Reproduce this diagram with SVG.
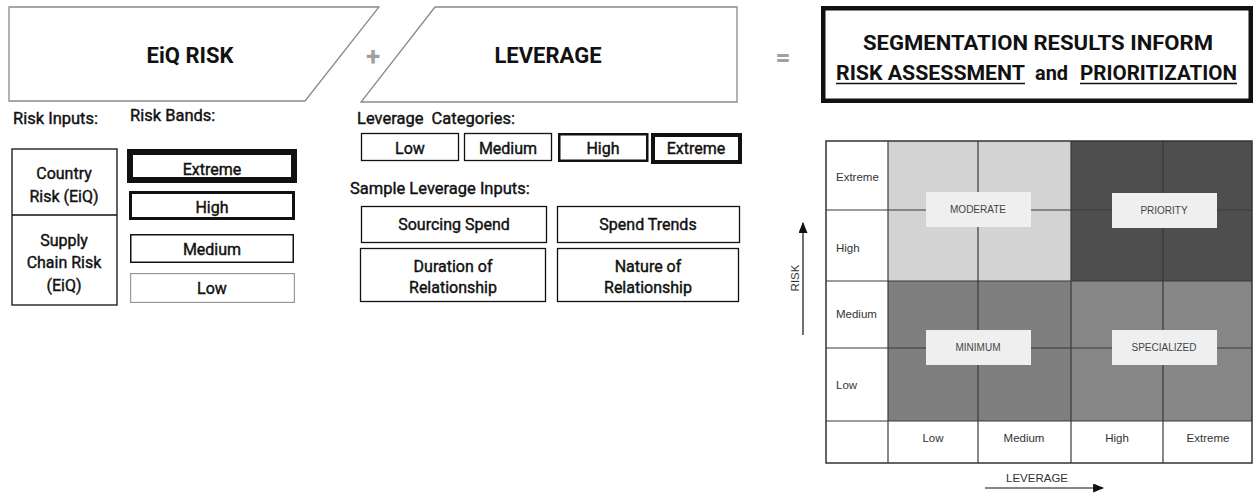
<svg xmlns="http://www.w3.org/2000/svg" width="1254" height="496" viewBox="0 0 1254 496">
<style>
text{font-family:Roboto,"Liberation Sans",sans-serif;fill:#111}
.hd{font-size:22px;font-weight:bold;text-anchor:middle}
.lb{font-size:16.5px;font-weight:400;stroke:#111;stroke-width:0.4}
.bx{font-size:16px;font-weight:400;text-anchor:middle;stroke:#111;stroke-width:0.4}
.op{font-size:26px;font-weight:bold;fill:#a0a0a0;text-anchor:middle}
.box{fill:#fff;stroke:#111;stroke-width:1.3}
.par{fill:#fff;stroke:#8a8a8a;stroke-width:1.3}
.gt{font-family:"Liberation Sans",Roboto,sans-serif;font-size:11.5px;fill:#333}
.gm{font-family:"Liberation Sans",Roboto,sans-serif;font-size:10px;fill:#444;text-anchor:middle}
.tag{fill:#efefef}
.gl{stroke:#3a3a3a;stroke-width:1.2}
.ax{stroke:#111;stroke-width:1.2;fill:none}
</style>
<defs>
<marker id="ah" viewBox="0 0 10 10" refX="9" refY="5" markerWidth="11" markerHeight="9" markerUnits="userSpaceOnUse" orient="auto" preserveAspectRatio="none">
<path d="M0,0 L10,5 L0,10 z" fill="#111"/>
</marker>
</defs>
<rect width="1254" height="496" fill="#fff"/>

<g id="eiq-risk-header">
<polygon class="par" points="9,7 379,7 305,101 9,101"/>
<text class="hd" x="190" y="63">EiQ RISK</text>
</g>
<g id="plus-op"><text class="op" x="373" y="65">+</text></g>
<g id="leverage-header">
<polygon class="par" points="435,7 737,7 737,102 361,102"/>
<text class="hd" x="548" y="63">LEVERAGE</text>
</g>
<g id="equals-op"><text class="op" x="783" y="66">=</text></g>
<g id="results-header">
<rect x="823.25" y="8.25" width="427.5" height="92.5" fill="#fff" stroke="#111" stroke-width="4.5"/>
<text x="1038" y="49.5" font-size="21" font-weight="bold" text-anchor="middle" textLength="350" lengthAdjust="spacingAndGlyphs">SEGMENTATION RESULTS INFORM</text>
<text x="836" y="79.5" font-size="21" font-weight="bold" textLength="189" lengthAdjust="spacingAndGlyphs">RISK ASSESSMENT</text>
<text x="1035" y="79.5" font-size="21" font-weight="bold" textLength="33" lengthAdjust="spacingAndGlyphs">and</text>
<text x="1080" y="79.5" font-size="21" font-weight="bold" textLength="157" lengthAdjust="spacingAndGlyphs">PRIORITIZATION</text>
<line x1="836" y1="83.5" x2="1025" y2="83.5" stroke="#111" stroke-width="1.5"/>
<line x1="1080" y1="83.5" x2="1237" y2="83.5" stroke="#111" stroke-width="1.5"/>
</g>

<g id="risk-inputs">
<text class="lb" x="13" y="124">Risk Inputs:</text>
<rect class="box" x="12" y="149" width="105" height="156"/>
<line x1="12" y1="215" x2="117" y2="215" stroke="#111" stroke-width="1.3"/>
<text class="bx" x="64" y="179">Country</text>
<text class="bx" x="64" y="202">Risk (EiQ)</text>
<text class="bx" x="64" y="246">Supply</text>
<text class="bx" x="64" y="268">Chain Risk</text>
<text class="bx" x="64" y="291">(EiQ)</text>
</g>

<g id="risk-bands">
<text class="lb" x="130" y="121">Risk Bands:</text>
<rect x="130" y="152" width="164" height="28" fill="#fff" stroke="#111" stroke-width="6"/>
<text class="bx" x="212" y="175">Extreme</text>
<rect x="130.5" y="192.5" width="163" height="26" fill="#fff" stroke="#111" stroke-width="3"/>
<text class="bx" x="212" y="213">High</text>
<rect x="130.75" y="234.75" width="162.5" height="27.5" fill="#fff" stroke="#111" stroke-width="1.5"/>
<text class="bx" x="212" y="255">Medium</text>
<rect x="130.6" y="273.6" width="163.8" height="28.8" fill="#fff" stroke="#999" stroke-width="1.2"/>
<text class="bx" x="212" y="294">Low</text>
</g>

<g id="leverage-categories">
<text class="lb" x="357" y="124" xml:space="preserve">Leverage  Categories:</text>
<rect class="box" x="361.5" y="133.5" width="97" height="27"/>
<text class="bx" x="410" y="154">Low</text>
<rect class="box" x="464.5" y="133.5" width="87" height="27"/>
<text class="bx" x="508" y="154">Medium</text>
<rect x="559.25" y="134.25" width="88" height="26.5" fill="#fff" stroke="#111" stroke-width="2.5"/>
<text class="bx" x="603" y="154">High</text>
<rect x="653" y="135" width="87" height="27" fill="#fff" stroke="#111" stroke-width="4"/>
<text class="bx" x="696" y="154">Extreme</text>
</g>

<g id="leverage-inputs">
<text class="lb" x="350" y="194">Sample Leverage Inputs:</text>
<rect class="box" x="361.5" y="206.5" width="185" height="36"/>
<text class="bx" x="454" y="230">Sourcing Spend</text>
<rect class="box" x="557.5" y="206.5" width="182" height="36"/>
<text class="bx" x="648" y="230">Spend Trends</text>
<rect class="box" x="360.5" y="248.5" width="185" height="53"/>
<text class="bx" x="453" y="272">Duration of</text>
<text class="bx" x="453" y="293">Relationship</text>
<rect class="box" x="557.5" y="248.5" width="181" height="53"/>
<text class="bx" x="648" y="272">Nature of</text>
<text class="bx" x="648" y="293">Relationship</text>
</g>

<g id="segmentation-grid">
<rect x="826" y="141" width="426" height="322" fill="#fff"/>
<rect x="888" y="141" width="183" height="140" fill="#d3d3d3"/>
<rect x="1071" y="141" width="181" height="140" fill="#4e4e4e"/>
<rect x="888" y="281" width="183" height="140" fill="#7f7f7f"/>
<rect x="1071" y="281" width="181" height="140" fill="#878787"/>
<g class="gl">
<line x1="888" y1="141" x2="888" y2="463"/>
<line x1="978" y1="141" x2="978" y2="463"/>
<line x1="1071" y1="141" x2="1071" y2="463"/>
<line x1="1163" y1="141" x2="1163" y2="463"/>
<line x1="826" y1="210" x2="1252" y2="210"/>
<line x1="826" y1="281" x2="1252" y2="281"/>
<line x1="826" y1="348" x2="1252" y2="348"/>
<line x1="826" y1="421" x2="1252" y2="421"/>
</g>
<rect x="826" y="141" width="426" height="322" fill="none" stroke="#333" stroke-width="1.5"/>
<text class="gt" x="836" y="181">Extreme</text>
<text class="gt" x="836" y="252">High</text>
<text class="gt" x="836" y="318">Medium</text>
<text class="gt" x="836" y="389">Low</text>
<text class="gt" x="933" y="442" text-anchor="middle">Low</text>
<text class="gt" x="1024" y="442" text-anchor="middle">Medium</text>
<text class="gt" x="1117" y="442" text-anchor="middle">High</text>
<text class="gt" x="1208" y="442" text-anchor="middle">Extreme</text>
</g>
<g id="moderate"><rect class="tag" x="926" y="192" width="105" height="35"/><text class="gm" x="978" y="213">MODERATE</text></g>
<g id="priority"><rect class="tag" x="1112" y="193" width="105" height="35"/><text class="gm" x="1164" y="214">PRIORITY</text></g>
<g id="minimum"><rect class="tag" x="926" y="330" width="105" height="35"/><text class="gm" x="978" y="351">MINIMUM</text></g>
<g id="specialized"><rect class="tag" x="1112" y="330" width="105" height="35"/><text class="gm" x="1164" y="351">SPECIALIZED</text></g>

<g id="connectors">
<line class="ax" x1="803" y1="335" x2="803" y2="223" marker-end="url(#ah)"/>
<line class="ax" x1="985" y1="488" x2="1103" y2="488" marker-end="url(#ah)"/>
</g>
<g id="axis-labels">
<text class="gt" x="0" y="0" text-anchor="middle" transform="translate(799,278) rotate(-90)">RISK</text>
<text class="gt" x="1037" y="482" text-anchor="middle">LEVERAGE</text>
</g>
</svg>
